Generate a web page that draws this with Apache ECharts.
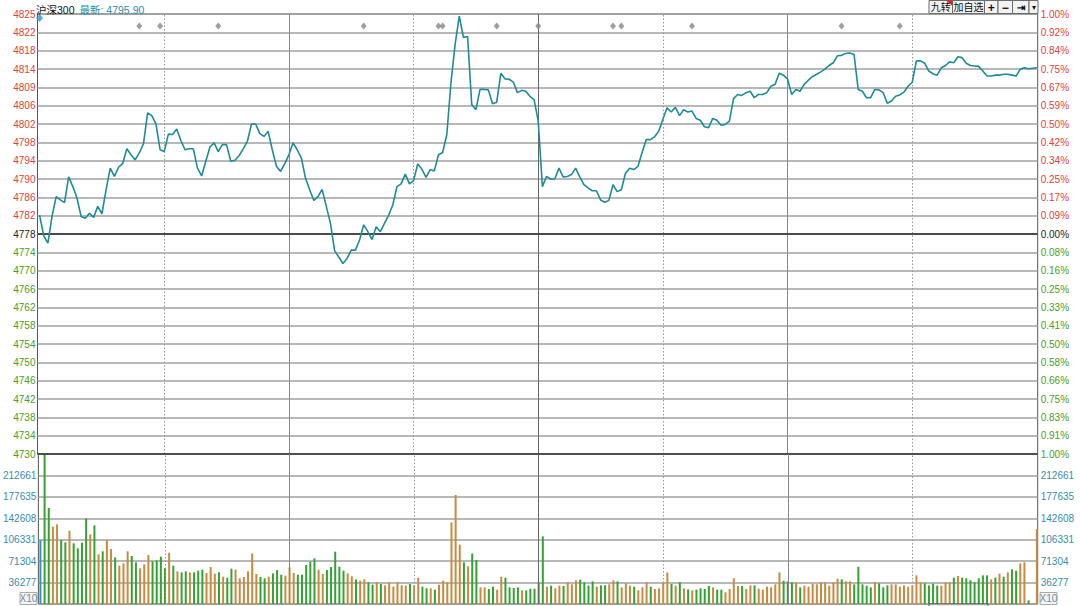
<!DOCTYPE html>
<html><head><meta charset="utf-8">
<script src="https://cdn.jsdelivr.net/npm/echarts@6/dist/echarts.min.js"></script>
<style>html,body{margin:0;padding:0;background:#fff}#c{width:1080px;height:606px}</style>
</head><body><div id="c"></div>
<script>
// ---------- data ----------
const indexName = '沪深300';
const lastText = '最新: 4795.90';
const prevClose = 4778;

// minute prices 09:30 .. 15:00 (241 points)
const prices = [
  4782.1,4777.6,4776.0,4781.9,4786.1,4785.4,4784.8,4790.4,4788.3,4785.8,
  4781.8,4781.4,4782.5,4781.6,4784.0,4782.4,4787.6,4792.3,4790.5,4792.5,
  4793.3,4796.5,4795.2,4794.1,4795.6,4797.6,4804.3,4803.7,4801.9,4796.3,
  4795.9,4799.7,4799.6,4800.8,4798.3,4796.3,4796.5,4796.5,4792.3,4790.6,
  4793.8,4796.9,4797.8,4795.9,4797.4,4797.4,4793.8,4794.0,4795.0,4796.5,
  4798.1,4801.9,4801.9,4799.8,4799.2,4800.3,4796.3,4792.7,4791.6,4793.3,
  4795.2,4797.8,4796.3,4794.5,4790.1,4787.6,4785.3,4786.1,4787.7,4784.0,
  4780.3,4774.4,4773.0,4771.6,4772.7,4774.5,4774.5,4776.7,4780.0,4778.5,
  4776.8,4779.6,4778.5,4780.3,4782.1,4784.3,4788.3,4788.9,4791.0,4788.9,
  4789.6,4793.2,4792.1,4790.3,4792.0,4791.7,4795.2,4795.7,4799.6,4810.9,
  4819.2,4825.3,4820.7,4820.9,4806.1,4805.0,4809.4,4809.4,4809.3,4806.3,
  4806.6,4812.9,4811.7,4811.6,4811.0,4808.7,4809.2,4809.0,4807.9,4807.2,
  4802.5,4788.3,4790.5,4789.9,4790.0,4792.3,4790.4,4790.5,4790.9,4792.3,
  4790.4,4788.7,4788.0,4787.4,4787.4,4785.4,4784.9,4785.3,4788.7,4787.2,
  4787.6,4791.2,4792.3,4792.0,4792.7,4795.7,4798.5,4798.5,4799.1,4800.3,
  4802.9,4805.4,4804.5,4805.5,4803.7,4805.0,4804.5,4804.7,4803.1,4802.7,
  4801.3,4801.1,4803.1,4802.7,4801.6,4801.8,4802.5,4807.4,4808.3,4808.1,
  4808.7,4809.0,4807.6,4808.3,4808.3,4808.7,4810.1,4810.5,4812.9,4812.5,
  4811.7,4808.3,4809.4,4809.0,4810.5,4811.4,4812.2,4812.7,4813.2,4813.8,
  4814.6,4815.2,4816.7,4816.8,4817.2,4817.3,4817.0,4809.4,4809.0,4807.6,
  4807.6,4809.4,4809.3,4808.7,4806.4,4806.9,4807.9,4808.2,4808.8,4810.1,
  4810.9,4815.6,4815.6,4815.1,4813.4,4812.8,4812.5,4814.1,4814.6,4815.4,
  4815.2,4816.5,4816.3,4815.1,4814.6,4814.5,4814.4,4813.4,4812.3,4812.3,
  4812.5,4812.5,4812.7,4812.7,4812.5,4812.3,4813.8,4814.1,4813.9,4814.0,
  4814.1
];

// minute volumes
const volumes = [
  105600,247000,158500,127700,131500,105700,101800,121100,100200,91900,
  101300,141400,115000,129900,82000,87000,105700,90800,77000,63300,
  67100,87000,79200,68800,58900,65500,80900,70400,72100,78100,
  59400,84700,63300,53900,52300,53900,52300,52300,55000,56700,
  51200,61100,50100,52300,45100,43500,58300,56700,42400,44600,
  53900,83600,49500,44600,42400,45100,50600,56100,48400,46800,
  60500,51200,48400,48400,64400,69900,75400,56700,49500,56100,
  61100,86400,61600,55000,50600,45700,40700,38500,40700,35800,
  31900,35800,33000,30800,35800,28600,35800,30800,30300,33000,
  30800,43500,28600,25900,25900,23700,31900,38500,35800,134800,
  180000,98000,68800,62200,83600,72600,27500,27500,24800,28600,
  23700,45100,43500,27500,26400,27500,22600,22600,25300,25300,
  35800,111700,28600,30300,25900,30300,29700,35800,32500,39100,
  40200,35800,30300,37400,28600,30800,30800,32500,39100,37400,
  27500,34100,30300,28600,22600,27500,35800,28600,24800,25900,
  35800,52300,33000,30300,35800,25900,24200,22600,23700,25900,
  24800,29700,27500,23700,23700,19300,24800,42400,29700,29700,
  24800,30800,30800,25300,23700,28600,27500,32500,52300,38500,
  37400,35800,35800,27500,30300,28600,33600,32500,35800,35800,
  30300,35800,41800,40700,37400,37400,32500,61600,32500,30300,
  27500,35800,34100,27500,30800,32500,32500,28600,30800,28600,
  30800,47300,35800,34100,30800,33600,30300,30300,35800,35800,
  43500,46200,43500,42400,39100,35800,42400,47300,47300,40700,
  43500,50100,45100,52300,57200,55000,67100,68800,6000,0,
  123800
];

// bar direction: b = opening, u = up, d = down
const volDir = [
  'bdduuddudd','ddududuudu','uudduuuddd','dududduddd','uuududduuu',
  'uuuddudddu','uuddddduud','dddduuduud','duduuuuuud','uudduduuuu',
  'uududduudd','uudddduddd','dduduuduuu','ddddudduud','uuuduuuduu',
  'uududududd','ddudduuuud','uuduuuuuud','dduduuuuuu','uuuduudddd',
  'duddduuuuu','uuudddduuu','dudddddddu','dududduudd','u'
].join('');

// axis tick labels (top to bottom)
const priceLabels = ['4825','4822','4818','4814','4809','4806','4802','4798','4794','4790','4786','4782','4778',
  '4774','4770','4766','4762','4758','4754','4750','4746','4742','4738','4734','4730'];
const pctLabels = ['1.00%','0.92%','0.84%','0.75%','0.67%','0.59%','0.50%','0.42%','0.34%','0.25%','0.17%','0.09%','0.00%',
  '0.08%','0.16%','0.25%','0.33%','0.41%','0.50%','0.58%','0.66%','0.75%','0.83%','0.91%','1.00%'];
// volume tick labels (bottom to top)
const volLabels = ['', '36277', '71304', '106331', '142608', '177635', '212661', ''];
const volStep = 35385;

// event markers (minute index) and their level
const markerIdx = [24, 29, 43, 78, 96, 97, 110, 120, 138, 140, 157, 193, 207];
const markerPrice = 4823.2;
const openMarkerPrice = 4824.9;

// session split minutes
const dottedMinutes = [30, 90, 150, 210];
const solidMinutes = [60, 120, 180];

// ---------- chart ----------
const rowStep = prevClose * 0.01 / 12;
const toRow = p => (p - prevClose) / rowStep;
const FONT = 'Liberation Sans, Arial, sans-serif';
const RED = '#e5403a', GREEN = '#45a125', DARK = '#222', VOLC = '#3a8cae';
const barColor = {b: '#3b8fc2', u: '#c98a3d', d: '#33a233'};

const vLines = dottedMinutes.map(m => ({xAxis: m, lineStyle: {type: [1.5, 2], color: '#999', width: 1}}))
  .concat(solidMinutes.map(m => ({xAxis: m, lineStyle: {type: 'solid', color: m === 120 ? '#666' : '#888', width: 1}})));

const priceLabelColor = v => { const r = Math.round(v); return r > 0 ? RED : (r === 0 ? DARK : GREEN); };

const chart = echarts.init(document.getElementById('c'), null, {renderer: 'svg'});
const L = 37.5, R = 42.3;

const btns = [
  {x: 929, w: 23.5, t: '九转', fs: 10},
  {x: 952.5, w: 32, t: '加自选', fs: 10},
  {x: 984.5, w: 13.5, t: '+', bold: true, fs: 12},
  {x: 998, w: 14.5, t: '−', bold: true, fs: 12},
  {x: 1012.5, w: 16.5, t: '⇥', bold: true, fs: 10},
  {x: 1029, w: 9, t: '▾', fs: 8}
];
const graphics = [];
btns.forEach(b => {
  graphics.push({type: 'rect', shape: {x: b.x, y: 0.5, width: b.w, height: 13}, style: {fill: '#f3f3f3', stroke: '#6a6a6a', lineWidth: 1}, z: 10});
  graphics.push({type: 'text', x: b.x + b.w / 2, y: 7.5, style: {text: b.t, fill: '#111', font: (b.bold ? 'bold ' : 'normal ') + b.fs + 'px ' + FONT + ', Noto Sans CJK SC', textAlign: 'center', textVerticalAlign: 'middle'}, z: 11});
});
graphics.push({type: 'polygon', shape: {points: [[946, 0.5], [952.5, 0.5], [952.5, 6]]}, style: {fill: '#e0201a'}, z: 12});
[20, 1040].forEach(x => {
  graphics.push({type: 'rect', shape: {x: x, y: 592.5, width: 17, height: 12}, style: {fill: '#f4f4f4', stroke: '#aaa', lineWidth: 1}, z: 10});
  graphics.push({type: 'text', x: x + 8.5, y: 598.5, style: {text: 'X10', fill: '#6b8ea6', font: '10px ' + FONT, textAlign: 'center', textVerticalAlign: 'middle'}, z: 11});
});
graphics.push({type: 'rect', shape: {x: 929, y: 604, width: 59, height: 4}, style: {fill: '#eee', stroke: '#555', lineWidth: 1}, z: 10});

const option = {
  animation: false,
  backgroundColor: '#fff',
  textStyle: {fontFamily: FONT},
  title: {
    text: '{a|' + indexName + '} {b|' + lastText + '}',
    left: 36, top: 1, padding: 0,
    textStyle: {fontWeight: 'normal', rich: {
      a: {color: '#111', fontSize: 10.5, fontWeight: 'normal', fontFamily: FONT + ', Noto Sans CJK SC'},
      b: {color: '#2b8ea6', fontSize: 10.5, fontWeight: 'normal', fontFamily: FONT + ', Noto Sans CJK SC'}
    }}
  },
  grid: [
    {left: L, right: R, top: 14, height: 440, show: true, borderColor: '#555', borderWidth: 1, backgroundColor: 'transparent'},
    {left: L, right: R, top: 454, bottom: 2, show: true, borderColor: '#555', borderWidth: 1, backgroundColor: 'transparent'}
  ],
  xAxis: [
    {type: 'value', gridIndex: 0, min: -0.5, max: 240.2, show: false},
    {type: 'value', gridIndex: 1, min: -0.5, max: 240.2, show: false}
  ],
  yAxis: [
    {type: 'value', gridIndex: 0, position: 'left', min: -12, max: 12, interval: 1,
      axisLine: {show: false}, axisTick: {show: false},
      splitLine: {show: true, lineStyle: {color: '#a0a0a0', width: 1.5}},
      axisLabel: {margin: 2, fontSize: 10, fontFamily: FONT, showMinLabel: true, showMaxLabel: true,
        formatter: v => priceLabels[12 - Math.round(v)], color: priceLabelColor}},
    {type: 'value', gridIndex: 0, position: 'right', min: -12, max: 12, interval: 1,
      axisLine: {show: false}, axisTick: {show: false}, splitLine: {show: false},
      axisLabel: {margin: 3, fontSize: 10, fontFamily: FONT, showMinLabel: true, showMaxLabel: true,
        formatter: v => pctLabels[12 - Math.round(v)], color: priceLabelColor}},
    {type: 'value', gridIndex: 1, position: 'left', min: 0, max: 7 * volStep, interval: volStep,
      axisLine: {show: false}, axisTick: {show: false},
      splitLine: {show: true, lineStyle: {color: '#a0a0a0', width: 1.5}},
      axisLabel: {margin: 2, fontSize: 10, fontFamily: FONT, color: VOLC, showMinLabel: true, showMaxLabel: true,
        formatter: v => volLabels[Math.round(v / volStep)] || ''}},
    {type: 'value', gridIndex: 1, position: 'right', min: 0, max: 7 * volStep, interval: volStep,
      axisLine: {show: false}, axisTick: {show: false}, splitLine: {show: false},
      axisLabel: {margin: 3, fontSize: 10, fontFamily: FONT, color: VOLC, showMinLabel: true, showMaxLabel: true,
        formatter: v => volLabels[Math.round(v / volStep)] || ''}}
  ],
  series: [
    {
      type: 'line', xAxisIndex: 0, yAxisIndex: 0, showSymbol: false, silent: true,
      data: prices.map((p, i) => [i, toRow(p)]),
      lineStyle: {color: '#1d8c99', width: 1.6}, itemStyle: {color: '#1d8c99'},
      z: 5,
      markLine: {silent: true, symbol: 'none', label: {show: false}, animation: false,
        data: vLines.concat([
          {yAxis: 0, lineStyle: {type: 'solid', color: '#4a4a4a', width: 2}},
          {yAxis: -12, lineStyle: {type: 'solid', color: '#333', width: 1.5}}
        ])}
    },
    {
      type: 'scatter', xAxisIndex: 0, yAxisIndex: 0, silent: true, symbol: 'diamond', symbolSize: [6, 7],
      itemStyle: {color: '#868686'}, z: 6,
      data: markerIdx.map(i => [i, toRow(markerPrice)])
    },
    {
      type: 'scatter', xAxisIndex: 0, yAxisIndex: 0, silent: true, symbol: 'diamond', symbolSize: [7, 8],
      itemStyle: {color: '#2a97d2'}, z: 6,
      data: [[0, toRow(openMarkerPrice)]]
    },
    {
      type: 'bar', xAxisIndex: 1, yAxisIndex: 2, barWidth: 2, silent: true,
      data: volumes.map((v, i) => ({value: [i, v], itemStyle: {color: barColor[volDir[i]]}})),
      markLine: {silent: true, symbol: 'none', label: {show: false}, animation: false, data: vLines}
    }
  ],
  graphic: graphics
};
chart.setOption(option);
</script>
</body></html>
